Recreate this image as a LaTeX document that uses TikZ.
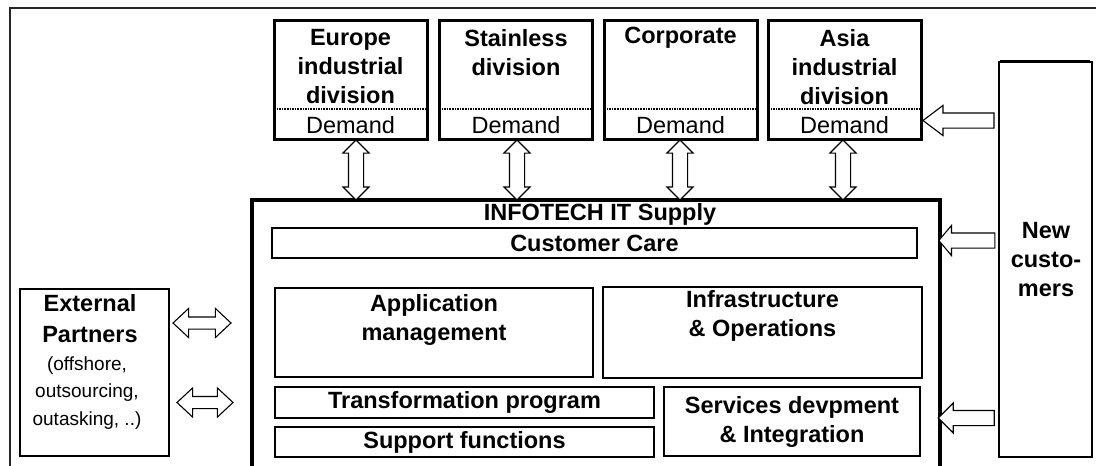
\documentclass[tikz,border=0pt]{standalone}
\usepackage{fontspec}
\setmainfont{Liberation Sans}
\usetikzlibrary{shapes.arrows}
\tikzset{
  divbox/.style={draw, line width=3pt, minimum width=153pt, minimum height=119pt, anchor=north west, inner sep=0pt, outer sep=0pt},
  inbox/.style={draw, line width=1.3pt, inner sep=0pt, outer sep=0pt, anchor=north west},
  ttl/.style={font=\bfseries\fontsize{23.5}{29}\selectfont, align=center, inner sep=0pt},
  reg/.style={font=\fontsize{23.5}{28}\selectfont, inner sep=0pt},
  small/.style={font=\fontsize{19}{27.5}\selectfont, align=center, inner sep=0pt},
  varr/.style={double arrow, draw, line width=1.1pt, fill=white, rotate=90, minimum height=60pt, inner xsep=0pt, inner ysep=7pt, double arrow head extend=5.5pt, double arrow tip angle=90},
  harr/.style={double arrow, draw, line width=1.1pt, fill=white, inner xsep=0pt, inner ysep=5.5pt, double arrow head extend=8.5pt, double arrow tip angle=86},
  larr/.style={single arrow, draw, line width=1.1pt, fill=white, rotate=180, inner xsep=0pt, inner ysep=7pt, single arrow head extend=7.5pt}
}
\begin{document}
\begin{tikzpicture}[x=1pt,y=-1pt]
\useasboundingbox (0,0) rectangle (1096,466);
\clip (0,0) rectangle (1096,466);
% outer frame
\draw[line width=1.3pt, black!85] (1100,8) -- (10,8) -- (10,470);

% division boxes
\node[divbox] (eu) at (274,20) {};
\node[divbox] (st) at (439,20) {};
\node[divbox] (co) at (604,20) {};
\node[divbox] (as) at (768,20) {};
\foreach \b in {eu,st,co,as}{
  \draw[densely dotted, line width=1.6pt] (\b.west |- 0,109) -- (\b.east |- 0,109);
}
\node[ttl] (eut) at (350.5,67) {Europe\\industrial\\division};
\node[ttl] (stt) at (516,53) {Stainless\\division};
\node[ttl] (cot) at (680.5,38) {Corporate};
\node[ttl] (ast) at (844.5,67) {Asia\\industrial\\division};
\node[reg] (eud) at (350.5,125) {Demand};
\node[reg] (std) at (516,125) {Demand};
\node[reg] (cod) at (680.5,125) {Demand};
\node[reg] (asd) at (844.5,125) {Demand};

% INFOTECH box
\draw[line width=4pt] (252,480) -- (252,200) -- (940,200) -- (940,480);
\node[ttl] (supt) at (600,214) {INFOTECH IT Supply};

% vertical double arrows
\node[varr] (a1) at (356,170) {};
\node[varr] (a2) at (517,170) {};
\node[varr] (a3) at (680,170) {};
\node[varr] (a4) at (843,170) {};

% inner boxes
\node[inbox, minimum width=645pt, minimum height=30pt] (cc) at (272,228) {};
\node[ttl] at (cc.center) {Customer Care};
\node[inbox, minimum width=318pt, minimum height=89pt] (am) at (275,288) {};
\node[ttl] at (434,320) {Application\\management};
\node[inbox, minimum width=319pt, minimum height=91pt] (io) at (603,287) {};
\node[ttl] at (762.5,316) {Infrastructure\\\& Operations};
\node[inbox, minimum width=379pt, minimum height=31pt] (tp) at (275,387) {};
\node[ttl] at (tp.center) {Transformation program};
\node[inbox, minimum width=379pt, minimum height=30pt] (sf) at (275,427) {};
\node[ttl] at (sf.center) {Support functions};
\node[inbox, minimum width=256pt, minimum height=69pt] (sd) at (664,387) {};
\node[ttl] at (792,422) {Services devpment\\\& Integration};

% External partners
\node[inbox, minimum width=149pt, minimum height=167pt] (ep) at (20,289) {};
\node[ttl, font=\bfseries\fontsize{23.5}{31}\selectfont] (ept) at (90,319) {External\\Partners};
\node[small] (eps) at (87,393) {(offshore,\\outsourcing,\\outasking, ..)};
\node[harr, minimum height=58pt] (h1) at (202,323) {};
\node[harr, minimum height=56pt] (h2) at (205,402.5) {};

% New customers
\node[inbox, minimum width=93pt, minimum height=395pt] (nc) at (999,62) {};
\draw[line width=1.3pt] (1000,60.5) -- (1090,60.5);
\node[ttl] at (1046,260) {New\\custo-\\mers};
\node[larr, minimum height=71pt, single arrow tip angle=74] (n1) at (963.5,120.5) {};
\node[larr, minimum height=56pt, single arrow tip angle=100] (n2) at (970,240.5) {};
\node[larr, minimum height=56pt, single arrow tip angle=90] (n3) at (970,418) {};
\end{tikzpicture}
\end{document}
